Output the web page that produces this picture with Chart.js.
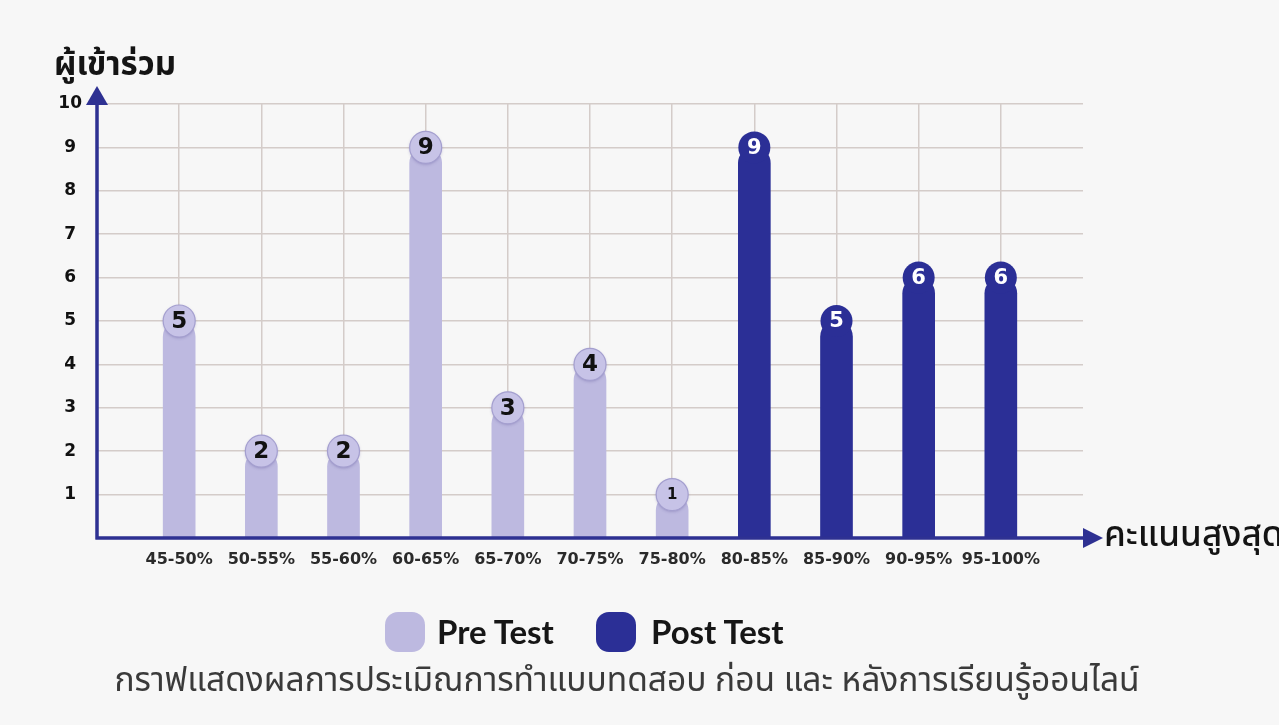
<!DOCTYPE html>
<html><head><meta charset="utf-8">
<script src="https://cdn.jsdelivr.net/npm/chart.js@4.4.1/dist/chart.umd.min.js"></script>
<style>
html,body{margin:0;padding:0;background:#f7f7f7;}
#wrap{position:relative;width:1279px;height:725px;overflow:hidden;background:#f7f7f7;}
canvas{position:absolute;left:0;top:0;}
.t{position:absolute;white-space:nowrap;font-family:"Noto Sans Thai","Noto Sans",sans-serif;color:#141414;line-height:1;}
.box{position:absolute;width:40px;height:40px;border-radius:13px;}
.lg{position:absolute;white-space:nowrap;font-family:Lato,"Open Sans",sans-serif;font-weight:700;font-size:33px;color:#161616;line-height:1;}
</style></head><body>
<div id="wrap">
<canvas id="c" width="1279" height="725"></canvas>
<div class="t" id="ytitle" style="left:54px;top:49px;font-size:33px;font-weight:700;">ผู้เข้าร่วม</div>
<div class="t" id="xtitle" style="left:1104px;top:518px;font-size:35px;font-weight:500;">คะแนนสูงสุด</div>
<div class="box" id="box1" style="left:385px;top:612px;"></div>
<div class="lg" id="lg1" style="left:437px;top:615px;">Pre Test</div>
<div class="box" id="box2" style="left:596px;top:612px;"></div>
<div class="lg" id="lg2" style="left:651px;top:615px;">Post Test</div>
<div class="t" id="caption" style="left:627px;top:664px;transform:translateX(-50%);font-size:33.5px;font-weight:400;color:#3a3a3a;">กราฟแสดงผลการประเมิณการทำแบบทดสอบ ก่อน และ หลังการเรียนรู้ออนไลน์</div>
</div>
<script>
// ---- data ----
const categories = ['45-50%','50-55%','55-60%','60-65%','65-70%','70-75%','75-80%','80-85%','85-90%','90-95%','95-100%'];
const preTest  = [5, 2, 2, 9, 3, 4, 1, null, null, null, null];
const postTest = [null, null, null, null, null, null, null, 9, 5, 6, 6];
const yTicks = [1,2,3,4,5,6,7,8,9,10];
const seriesNames = ['Pre Test','Post Test'];

const PRE = '#bdb9e0', POST = '#2b2f96', AXIS = '#2e3192', GRID = '#d4ccc9';
document.getElementById('box1').style.background = PRE;
document.getElementById('box2').style.background = POST;

// pad one empty slot at each end so bars sit on grid lines
const labels = [''].concat(categories, ['']);
const pad = arr => [null].concat(arr, [null]);

const badges = {
  id: 'badges',
  afterDatasetsDraw(chart) {
    const ctx = chart.ctx, a = chart.chartArea;
    // axes with arrows
    ctx.save();
    ctx.strokeStyle = AXIS; ctx.fillStyle = AXIS; ctx.lineWidth = 3.5;
    ctx.beginPath();
    ctx.moveTo(a.left, a.bottom + 1.5); ctx.lineTo(a.left, a.top - 6);
    ctx.moveTo(a.left - 1.5, a.bottom); ctx.lineTo(a.right, a.bottom);
    ctx.stroke();
    ctx.beginPath();
    ctx.moveTo(a.left, a.top - 18); ctx.lineTo(a.left + 11, a.top + 1); ctx.lineTo(a.left - 11, a.top + 1); ctx.closePath(); ctx.fill();
    ctx.beginPath();
    ctx.moveTo(a.right + 20, a.bottom); ctx.lineTo(a.right, a.bottom - 10); ctx.lineTo(a.right, a.bottom + 10); ctx.closePath(); ctx.fill();
    ctx.restore();
    // value badges
    chart.data.datasets.forEach((ds, di) => {
      const meta = chart.getDatasetMeta(di);
      meta.data.forEach((bar, i) => {
        const v = ds.data[i];
        if (v == null) return;
        const x = bar.x, y = bar.y;
        ctx.save();
        ctx.beginPath(); ctx.arc(x, y, 16, 0, Math.PI * 2);
        if (di === 0) {
          ctx.shadowColor = 'rgba(80,70,140,0.35)'; ctx.shadowBlur = 3; ctx.shadowOffsetY = 1;
          ctx.fillStyle = '#c7c3e7'; ctx.fill();
          ctx.shadowColor = 'transparent';
          ctx.lineWidth = 1.2; ctx.strokeStyle = '#a49fcf'; ctx.stroke();
          ctx.fillStyle = '#111';
        } else {
          ctx.fillStyle = POST; ctx.fill();
          ctx.fillStyle = '#ffffff';
        }
        const fs = v === 1 ? 15 : (di === 0 ? 23 : 21);
        ctx.font = 'bold ' + fs + 'px "DejaVu Sans", sans-serif';
        ctx.textAlign = 'center'; ctx.textBaseline = 'middle';
        ctx.fillText(String(v), x, y + 1);
        ctx.restore();
      });
    });
  }
};

new Chart(document.getElementById('c'), {
  type: 'bar',
  data: {
    labels: labels,
    datasets: [
      { label: seriesNames[0], data: pad(preTest), backgroundColor: PRE, barThickness: 32, borderRadius: {topLeft: 16, topRight: 16}, borderSkipped: 'bottom' },
      { label: seriesNames[1], data: pad(postTest), backgroundColor: POST, barThickness: 32, borderRadius: {topLeft: 16, topRight: 16}, borderSkipped: 'bottom' }
    ]
  },
  options: {
    responsive: false,
    animation: false,
    layout: { padding: { left: 0, top: 104, right: 196, bottom: 147 } },
    plugins: { legend: { display: false }, tooltip: { enabled: false } },
    scales: {
      x: {
        type: 'category', offset: false, stacked: true,
        afterFit: s => { s.height = 40; },
        border: { display: false },
        grid: { offset: false, drawTicks: false, lineWidth: 1.5, color: c => (c.index === 0 || c.index === labels.length - 1) ? 'rgba(0,0,0,0)' : GRID },
        ticks: { autoSkip: false, maxRotation: 0, padding: 12, color: '#2a2a2a', font: { family: 'DejaVu Sans', weight: 'bold', size: 16 } }
      },
      y: {
        min: 0, max: 10,
        afterFit: s => { s.width = 97; },
        afterBuildTicks: s => { s.ticks = [0].concat(yTicks).map(v => ({ value: v })); },
        border: { display: false },
        grid: { drawTicks: false, lineWidth: 1.5, color: c => c.tick.value === 0 ? 'rgba(0,0,0,0)' : GRID },
        ticks: { crossAlign: 'center', padding: 15, color: '#111', font: { family: 'DejaVu Sans', weight: 'bold', size: 17 },
                 callback: v => v === 0 ? '' : String(v) }
      }
    }
  },
  plugins: [badges]
});
</script>
</body></html>
